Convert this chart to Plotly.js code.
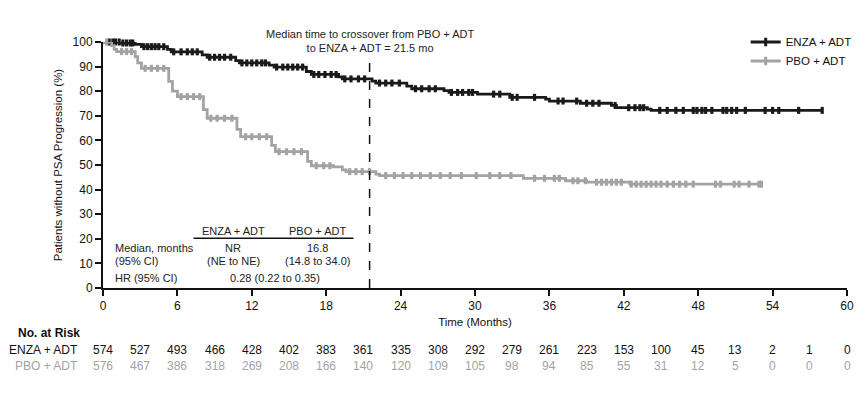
<!DOCTYPE html>
<html>
<head>
<meta charset="utf-8">
<script src="https://cdn.plot.ly/plotly-3.0.1.min.js"></script>
<style>html,body{margin:0;padding:0;background:#fff;}#chart{width:866px;height:397px;}</style>
</head>
<body>
<div id="chart"></div>
<script>
// ---- Data ----
const enzaTime = [0, 1.5, 2.6, 3.1, 5.2, 5.5, 8.0, 8.4, 10.7, 11.0, 13.4, 13.8, 16.4, 16.8, 19.0, 19.3, 21.7, 22.0, 24.5, 24.9, 27.5, 27.9, 30.2, 32.8, 35.7, 36.0, 38.5, 41.0, 41.4, 43.9, 44.2, 58.0];
const enzaSurv = [100, 99.6, 99.0, 98.1, 97.0, 96.0, 94.8, 93.8, 92.4, 91.5, 90.6, 89.8, 88.0, 86.8, 85.8, 85.0, 84.1, 83.3, 82.1, 81.0, 80.2, 79.5, 78.8, 77.5, 76.8, 76.0, 75.1, 74.2, 73.3, 72.7, 72.2, 72.2];
const pboTime = [0, 0.7, 0.9, 1.1, 2.6, 2.8, 3.1, 5.3, 5.6, 6.0, 8.1, 8.4, 10.8, 11.1, 13.6, 13.9, 16.5, 16.8, 18.6, 19.3, 19.6, 22.0, 22.3, 33.9, 37.3, 39.0, 42.5, 53.1];
const pboSurv = [100, 98.5, 97.0, 96.1, 94.0, 91.5, 89.3, 84.0, 80.0, 77.8, 72.5, 69.0, 64.5, 61.5, 58.0, 55.4, 51.5, 49.7, 49.2, 48.0, 47.3, 46.3, 45.7, 44.6, 43.6, 43.0, 42.2, 42.2];

const enzaCensor = [0.5,0.8,1.0,1.3,1.6,1.9,2.2,2.4,3.3,3.6,3.9,4.2,4.5,4.9,5.7,6.3,6.8,7.2,7.6,8.6,9.0,9.4,9.8,10.3,11.2,11.6,12.0,12.4,12.8,13.1,14.0,14.5,14.9,15.3,15.7,16.1,17.0,17.4,17.9,18.4,18.8,19.5,20.0,20.6,21.1,22.3,22.8,23.3,23.9,25.2,25.7,26.3,26.8,28.1,28.6,29.0,29.5,29.8,31.5,32.0,33.0,33.4,34.8,36.7,37.1,38.2,39.0,39.5,40.0,41.3,42.4,42.9,43.3,43.6,44.9,45.5,46.2,46.8,47.6,47.9,48.3,48.6,49.1,50.0,50.3,50.7,51.1,51.8,53.4,54.0,54.5,56.1,58.0];
const pboCensor = [0.3,1.5,1.9,2.3,3.4,3.9,4.4,4.9,6.3,6.8,7.3,7.8,8.7,9.2,9.8,10.4,11.5,12.0,12.6,13.2,14.2,14.8,15.4,16.0,17.2,17.8,18.3,19.9,20.4,20.9,21.5,22.8,23.5,24.2,24.9,25.6,26.4,27.2,28.0,28.9,30.1,31.2,32.0,32.9,34.8,35.6,36.4,36.8,37.9,38.3,38.9,39.8,40.2,40.6,41.0,41.4,41.8,42.6,43.0,43.4,43.8,44.2,44.6,45.0,45.5,46.0,46.5,47.0,47.6,49.4,49.8,50.9,51.3,52.1,52.9,53.1];

const riskTimes = [0,3,6,9,12,15,18,21,24,27,30,33,36,39,42,45,48,51,54,57,60];
const enzaRisk = [574,527,493,466,428,402,383,361,335,308,292,279,261,223,153,100,45,13,2,1,0];
const pboRisk  = [576,467,386,318,269,208,166,140,120,109,105,98,94,85,55,31,12,5,0,0,0];

const seriesNames = ['ENZA + ADT', 'PBO + ADT'];
const crossoverMedian = 21.5;

// ---- Styling ----
const FONT = 'Liberation Sans, Arial, Helvetica, sans-serif';
const BLACK = '#1a1a1a';
const GRAY = '#a3a3a3';

function stepAt(times, surv, t) {
  let v = surv[0];
  for (let i = 0; i < times.length; i++) { if (times[i] <= t) v = surv[i]; }
  return v;
}

function kmTraces(name, times, surv, censor, color) {
  return [
    {x: times, y: surv, type: 'scatter', mode: 'lines', line: {shape: 'hv', color: color, width: 2.8},
     showlegend: false, hoverinfo: 'skip', cliponaxis: false},
    {x: censor, y: censor.map(t => stepAt(times, surv, t)), type: 'scatter', mode: 'markers',
     marker: {symbol: 'line-ns', size: 5, line: {color: color, width: 3.2}},
     showlegend: false, hoverinfo: 'skip', cliponaxis: false},
    {x: [null], y: [null], type: 'scatter', mode: 'lines+markers', name: name,
     line: {color: color, width: 2.8}, marker: {symbol: 'line-ns', size: 6, line: {color: color, width: 3}}}
  ];
}

const traces = [].concat(
  kmTraces(seriesNames[0], enzaTime, enzaSurv, enzaCensor, BLACK),
  kmTraces(seriesNames[1], pboTime, pboSurv, pboCensor, GRAY)
);

const annotations = [];
function ann(o) { annotations.push(Object.assign({showarrow: false, xanchor: 'center', yanchor: 'middle', font: {family: FONT, size: 11, color: '#222'}}, o)); }

// crossover label
ann({xref: 'x', yref: 'paper', x: crossoverMedian, y: 1.004,
     text: 'Median time to crossover from PBO + ADT<br>to ENZA + ADT = ' + crossoverMedian + ' mo'});

// inner table
ann({xref: 'x', yref: 'y', x: 10.5, y: 23.2, text: 'ENZA + ADT'});
ann({xref: 'x', yref: 'y', x: 17.3, y: 23.2, text: 'PBO + ADT'});
ann({xref: 'x', yref: 'y', x: 0.8, y: 16.3, xanchor: 'left', text: 'Median, months'});
ann({xref: 'x', yref: 'y', x: 0.8, y: 11.0, xanchor: 'left', text: '(95% CI)'});
ann({xref: 'x', yref: 'y', x: 10.5, y: 16.3, text: 'NR'});
ann({xref: 'x', yref: 'y', x: 10.5, y: 11.0, text: '(NE to NE)'});
ann({xref: 'x', yref: 'y', x: 17.3, y: 16.3, text: '16.8'});
ann({xref: 'x', yref: 'y', x: 17.3, y: 11.0, text: '(14.8 to 34.0)'});
ann({xref: 'x', yref: 'y', x: 0.8, y: 4.2, xanchor: 'left', text: 'HR (95% CI)'});
ann({xref: 'x', yref: 'y', x: 13.9, y: 4.2, text: '0.28 (0.22 to 0.35)'});

// at-risk table
ann({xref: 'paper', yref: 'paper', x: -0.117, y: -0.183, xanchor: 'left', text: '<b>No. at Risk</b>', font: {family: FONT, size: 12, color: '#111'}});
ann({xref: 'paper', yref: 'paper', x: -0.031, y: -0.252, xanchor: 'right', text: seriesNames[0], font: {family: FONT, size: 12, color: '#111'}});
ann({xref: 'paper', yref: 'paper', x: -0.031, y: -0.317, xanchor: 'right', text: seriesNames[1], font: {family: FONT, size: 12, color: GRAY}});
riskTimes.forEach((t, i) => {
  ann({xref: 'x', yref: 'paper', x: t, y: -0.252, text: String(enzaRisk[i]), font: {family: FONT, size: 12, color: '#111'}});
  ann({xref: 'x', yref: 'paper', x: t, y: -0.317, text: String(pboRisk[i]), font: {family: FONT, size: 12, color: GRAY}});
});

const layout = {
  width: 866, height: 397,
  margin: {l: 103, r: 19, t: 42, b: 109, autoexpand: false},
  paper_bgcolor: '#fff', plot_bgcolor: '#fff',
  font: {family: FONT, size: 12, color: '#111'},
  showlegend: true,
  legend: {x: 1.013, xanchor: 'right', y: 1.059, yanchor: 'top', bgcolor: 'rgba(0,0,0,0)',
           font: {family: FONT, size: 11.5, color: '#111'}, itemwidth: 30, tracegroupgap: 0},
  xaxis: {range: [0, 60], tickvals: [0,6,12,18,24,30,36,42,48,54,60], showgrid: false, zeroline: false,
          showline: true, linecolor: '#111', linewidth: 2, ticks: 'outside', ticklen: 6, tickwidth: 2, tickcolor: '#111',
          tickfont: {family: FONT, size: 12, color: '#111'},
          title: {text: 'Time (Months)', font: {family: FONT, size: 11.5, color: '#111'}, standoff: 6}},
  yaxis: {range: [0, 100], dtick: 10, showgrid: false, zeroline: false,
          showline: true, linecolor: '#111', linewidth: 2, ticks: 'outside', ticklen: 6, tickwidth: 2, tickcolor: '#111',
          tickfont: {family: FONT, size: 12, color: '#111'},
          title: {text: 'Patients without PSA Progression (%)', font: {family: FONT, size: 11.5, color: '#111'}, standoff: 8}},
  shapes: [
    {type: 'line', xref: 'x', yref: 'y', x0: crossoverMedian, x1: crossoverMedian, y0: 0, y1: 95,
     line: {color: '#111', width: 1.5, dash: 'dash'}},
    {type: 'line', xref: 'x', yref: 'y', x0: 7.3, x1: 20.2, y0: 20.2, y1: 20.2, line: {color: '#111', width: 1.5}}
  ],
  annotations: annotations
};

Plotly.newPlot('chart', traces, layout, {displayModeBar: false, staticPlot: true});
</script>
</body>
</html>
